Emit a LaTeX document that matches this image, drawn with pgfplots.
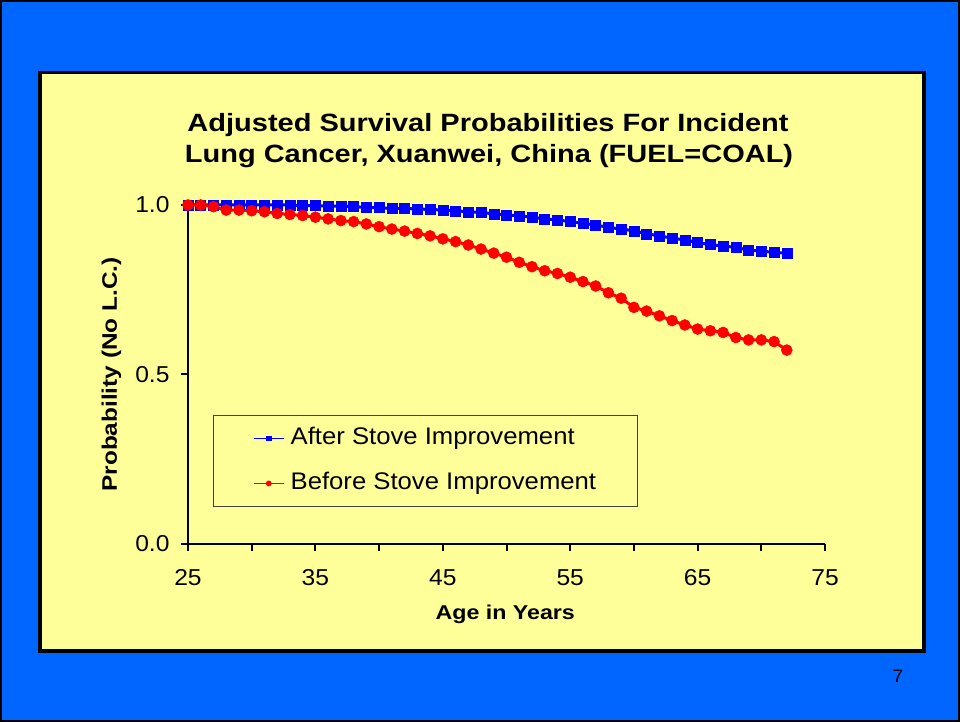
\documentclass[border=0pt]{standalone}
\usepackage{fontspec}
\setmainfont{Liberation Sans}[FakeStretch=1.07]
\newfontfamily\bfwide{Liberation Sans}[FakeStretch=1.16]
\usepackage{pgfplots}
\pgfplotsset{compat=1.18}
\definecolor{slideblue}{RGB}{0,102,255}
\definecolor{panelyellow}{RGB}{255,255,153}
\definecolor{serblue}{RGB}{0,0,255}
\definecolor{serred}{RGB}{255,0,0}

\pgfplotstableread{
age after
25 1.000
26 1.000
27 1.000
28 1.000
29 1.000
30 1.000
31 1.000
32 1.000
33 1.000
34 0.998
35 0.998
36 0.997
37 0.997
38 0.995
39 0.993
40 0.992
41 0.990
42 0.990
43 0.988
44 0.987
45 0.985
46 0.983
47 0.980
48 0.978
49 0.974
50 0.971
51 0.968
52 0.964
53 0.959
54 0.956
55 0.951
56 0.946
57 0.941
58 0.934
59 0.929
60 0.924
61 0.915
62 0.909
63 0.902
64 0.897
65 0.889
66 0.883
67 0.879
68 0.875
69 0.867
70 0.864
71 0.860
72 0.858
}\aftertable

\pgfplotstableread{
age before
25 1.000
26 1.000
27 0.995
28 0.985
29 0.985
30 0.983
31 0.980
32 0.975
33 0.972
34 0.969
35 0.964
36 0.959
37 0.954
38 0.951
39 0.944
40 0.936
41 0.929
42 0.923
43 0.916
44 0.909
45 0.900
46 0.892
47 0.882
48 0.870
49 0.858
50 0.846
51 0.831
52 0.818
53 0.806
54 0.798
55 0.787
56 0.774
57 0.761
58 0.741
59 0.725
60 0.698
61 0.687
62 0.673
63 0.659
64 0.646
65 0.634
66 0.629
67 0.624
68 0.609
69 0.602
70 0.602
71 0.597
72 0.572
}\beforetable

\begin{document}
\begin{tikzpicture}[x=1pt,y=1pt]
% slide background
\fill[slideblue] (0,0) rectangle (960,722);
\draw[black,line width=2pt] (1,1) rectangle (959,721);
% yellow panel
\filldraw[fill=panelyellow,draw=black,line width=3.5pt] (40,71) rectangle (924,649.5);
% title
\node[anchor=base,font=\bfwide\bfseries\fontsize{25}{25}\selectfont] at (488,590) {Adjusted Survival Probabilities For Incident};
\node[anchor=base,font=\bfwide\bfseries\fontsize{25}{25}\selectfont] at (489,559) {Lung Cancer, Xuanwei, China (FUEL=COAL)};
% page number
\node[font=\fontsize{18}{18}\selectfont] at (898,46) {7};

\begin{axis}[
  at={(188pt,178pt)}, anchor=south west,
  scale only axis, width=637pt, height=339pt,
  xmin=25, xmax=75, ymin=0, ymax=1,
  axis x line=bottom, axis y line=left,
  axis line style={-, line width=2pt, black},
  xtick={25,35,45,55,65,75},
  minor xtick={30,40,50,60,70},
  ytick={0,0.5,1},
  tick align=outside,
  major tick length=7pt, minor tick length=7pt,
  every tick/.style={black, line width=2pt},
  /pgf/number format/assume math mode=true,
  ticklabel style={font=\fontsize{23}{23}\selectfont, text=black},
  xticklabel style={yshift=-15pt},
  yticklabel style={xshift=-8pt, /pgf/number format/fixed, /pgf/number format/fixed zerofill, /pgf/number format/precision=1},
  xlabel={Age in Years},
  ylabel={Probability (No L.C.)},
  xlabel style={font=\bfwide\bfseries\fontsize{20}{20}\selectfont, at={(axis description cs:0.498,-0.224)}, anchor=base},
  ylabel style={font=\bfwide\bfseries\fontsize{21}{21}\selectfont, at={(axis description cs:-0.12,0.5)}, anchor=center},
  clip=false,
  legend cell align=left,
  legend image code/.code={\draw[mark repeat=2,mark phase=2] plot coordinates {(0pt,0pt) (15pt,0pt) (30pt,0pt)};},
  legend style={at={(axis description cs:0.0392,0.3805)}, anchor=north west,
    draw=black!75, line width=0.8pt, fill=panelyellow,
    inner xsep=39.5pt, inner ysep=9.5pt, row sep=18pt,
    font=\fontsize{24}{24}\selectfont,
    nodes={inner sep=2pt, text height=18pt, text depth=5pt},
    /tikz/every odd column/.append style={column sep=4pt}},
]
\addplot[serblue, line width=3pt, mark=square*, mark size=5pt,
  mark options={solid, fill=serblue, draw=serblue, line width=0.5pt},
  legend image post style={line width=1.8pt, mark size=2.2pt}]
  table[x=age,y=after] {\aftertable};
\addlegendentry{After Stove Improvement}
\addplot[serred, line width=3pt, mark=*, mark size=5.5pt,
  mark options={solid, fill=serred, draw=serred, line width=0.5pt},
  legend image post style={line width=1.8pt, mark size=2.6pt}]
  table[x=age,y=before] {\beforetable};
\addlegendentry{Before Stove Improvement}
\end{axis}
\end{tikzpicture}
\end{document}
